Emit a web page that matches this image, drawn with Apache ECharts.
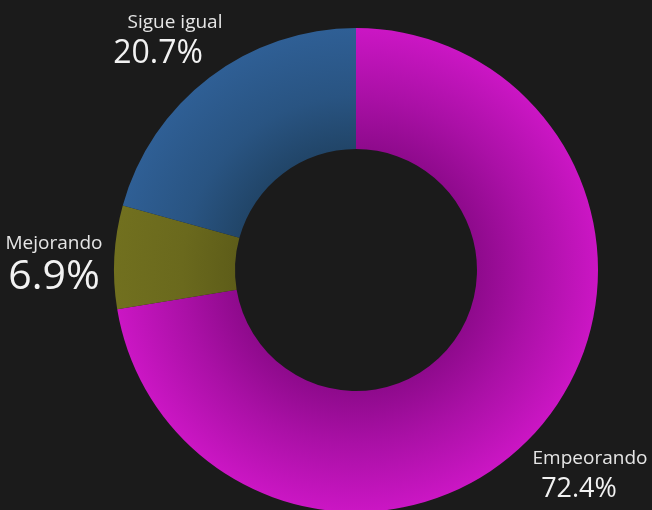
<!DOCTYPE html>
<html><head><meta charset="utf-8">
<script src="https://cdn.jsdelivr.net/npm/echarts@6/dist/echarts.min.js"></script>
<style>html,body{margin:0;padding:0;background:#1b1b1b}#c{width:652px;height:510px}</style>
</head><body><div id="c"></div>
<script>
const categories = ['Empeorando', 'Mejorando', 'Sigue igual'];
const values = [72.4, 6.9, 20.7];

const CX = 356, CY = 270, R0 = 121, R1 = 242;
function grad(inner, mid, outer) {
  return { type: 'radial', x: CX, y: CY, r: R1, global: true,
    colorStops: [{offset: 0.5, color: inner}, {offset: 0.72, color: mid}, {offset: 1, color: outer}] };
}
const sliceColors = [
  grad('#8e0a8c', '#aa10a6', '#cb16c4'),
  grad('#5e5d19', '#6a691d', '#71701f'),
  grad('#214568', '#295482', '#2f5f95')
];
const labelPos = [[590, 475], [54, 263], [175, 40]];
const valueStyle = ['v0', 'v1', 'v2'];

const chart = echarts.init(document.getElementById('c'), null, {renderer: 'canvas'});
chart.setOption({
  backgroundColor: '#1b1b1b',
  animation: false,
  series: [{
    type: 'pie',
    center: [CX, CY],
    radius: [R0, R1],
    startAngle: 90,
    clockwise: true,
    avoidLabelOverlap: false,
    labelLine: {show: false},
    label: {
      show: true,
      position: 'outside',
      fontFamily: 'Open Sans',
      align: 'center',
      formatter: p => '{n|' + p.name + '}\n{' + valueStyle[p.dataIndex] + '|' + p.value.toFixed(1) + '%}',
      rich: {
        n: {fontFamily: 'Open Sans', fontSize: 19, color: '#e6e6e6', lineHeight: 28, align: 'center'},
        v0: {fontFamily: 'Open Sans', fontSize: 27, color: '#f2f2f2', lineHeight: 32, align: 'center', padding: [0, 22, 0, 0]},
        v1: {fontFamily: 'Open Sans', fontSize: 41, color: '#f2f2f2', lineHeight: 38, align: 'center'},
        v2: {fontFamily: 'Open Sans', fontSize: 32, color: '#f2f2f2', lineHeight: 34, align: 'center', padding: [0, 34, 0, 0]}
      }
    },
    labelLayout: p => ({x: labelPos[p.dataIndex][0], y: labelPos[p.dataIndex][1], align: 'center', verticalAlign: 'middle'}),
    itemStyle: {borderWidth: 0},
    emphasis: {disabled: true},
    data: categories.map((c, i) => ({name: c, value: values[i], itemStyle: {color: sliceColors[i]}}))
  }]
});
</script></body></html>
